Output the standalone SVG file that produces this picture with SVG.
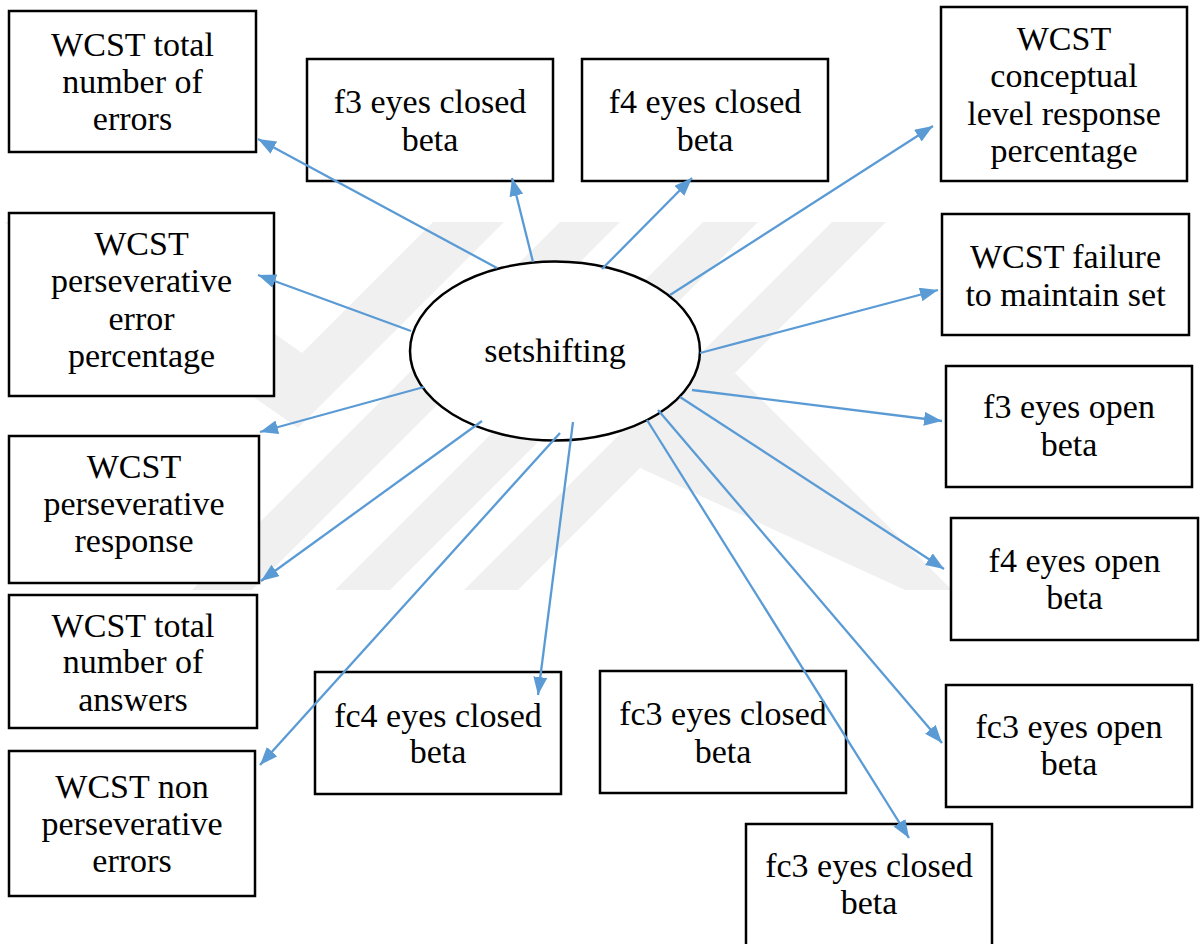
<svg xmlns="http://www.w3.org/2000/svg" width="1200" height="944" viewBox="0 0 1200 944">
  <style>
    .box { fill: #ffffff; stroke: #000000; stroke-width: 2.5; }
    .hub { fill: #ffffff; stroke: #000000; stroke-width: 2.5; }
    .lbl { font-family: "Liberation Serif", "Times New Roman", serif; font-size: 34px; fill: #000000; text-anchor: middle; }
    .edge { stroke: #5B9BD5; stroke-width: 2.3; fill: none; marker-end: url(#arrow); }
    .wm { fill: #f0f0f0; }
  </style>
  <defs>
    <marker id="arrow" markerUnits="userSpaceOnUse" markerWidth="20" markerHeight="16" refX="18" refY="7" orient="auto">
      <path d="M0,0 L18,7 L0,14 z" fill="#5B9BD5"/>
    </marker>
    <clipPath id="wmClip">
      <rect x="0" y="222" width="1200" height="368"/>
    </clipPath>
  </defs>

  <rect x="0" y="0" width="1200" height="944" fill="#ffffff"/>

  <!-- faint background emblem -->
  <g id="watermark" clip-path="url(#wmClip)">
    <polygon class="wm" points="4,222 115,222 302,353 433,222 504,222 298,428"/>
    <polygon class="wm" points="560,222 620,222 252,590 192,590"/>
    <polygon class="wm" points="703,222 758,222 390,590 335,590"/>
    <polygon class="wm" points="832,222 886,222 518,590 464,590"/>
    <polygon class="wm" points="735,373 952,590 905,590 640,468"/>
  </g>

  <!-- indicator boxes -->
  <g id="wcst-total-errors">
    <rect class="box" x="9" y="11" width="247" height="141"/>
    <text class="lbl" x="132.5" y="56">WCST total</text>
    <text class="lbl" x="132.5" y="93">number of</text>
    <text class="lbl" x="132.5" y="130">errors</text>
  </g>
  <g id="f3-eyes-closed-beta">
    <rect class="box" x="307" y="59" width="246" height="122"/>
    <text class="lbl" x="430" y="113">f3 eyes closed</text>
    <text class="lbl" x="430" y="151">beta</text>
  </g>
  <g id="f4-eyes-closed-beta">
    <rect class="box" x="582" y="59" width="246" height="122"/>
    <text class="lbl" x="705" y="113">f4 eyes closed</text>
    <text class="lbl" x="705" y="151">beta</text>
  </g>
  <g id="wcst-conceptual-level">
    <rect class="box" x="941" y="7" width="246" height="174"/>
    <text class="lbl" x="1064" y="50">WCST</text>
    <text class="lbl" x="1064" y="87">conceptual</text>
    <text class="lbl" x="1064" y="125">level response</text>
    <text class="lbl" x="1064" y="162">percentage</text>
  </g>
  <g id="wcst-perseverative-error-pct">
    <rect class="box" x="9" y="213" width="265" height="183"/>
    <text class="lbl" x="141.5" y="255">WCST</text>
    <text class="lbl" x="141.5" y="292">perseverative</text>
    <text class="lbl" x="141.5" y="330">error</text>
    <text class="lbl" x="141.5" y="367">percentage</text>
  </g>
  <g id="wcst-failure-maintain-set">
    <rect class="box" x="942" y="214" width="247" height="121"/>
    <text class="lbl" x="1065.5" y="268">WCST failure</text>
    <text class="lbl" x="1065.5" y="306">to maintain set</text>
  </g>
  <g id="f3-eyes-open-beta">
    <rect class="box" x="946" y="366" width="246" height="121"/>
    <text class="lbl" x="1069" y="418">f3 eyes open</text>
    <text class="lbl" x="1069" y="456">beta</text>
  </g>
  <g id="wcst-perseverative-response">
    <rect class="box" x="9" y="436" width="250" height="147"/>
    <text class="lbl" x="134" y="478">WCST</text>
    <text class="lbl" x="134" y="515">perseverative</text>
    <text class="lbl" x="134" y="552">response</text>
  </g>
  <g id="f4-eyes-open-beta">
    <rect class="box" x="951" y="518" width="247" height="122"/>
    <text class="lbl" x="1074.5" y="572">f4 eyes open</text>
    <text class="lbl" x="1074.5" y="609">beta</text>
  </g>
  <g id="wcst-total-answers">
    <rect class="box" x="9" y="595" width="248" height="133"/>
    <text class="lbl" x="133" y="637">WCST total</text>
    <text class="lbl" x="133" y="673">number of</text>
    <text class="lbl" x="133" y="711">answers</text>
  </g>
  <g id="fc4-eyes-closed-beta">
    <rect class="box" x="315" y="672" width="246" height="122"/>
    <text class="lbl" x="438" y="727">fc4 eyes closed</text>
    <text class="lbl" x="438" y="763">beta</text>
  </g>
  <g id="fc3-eyes-closed-beta-a">
    <rect class="box" x="600" y="671" width="246" height="122"/>
    <text class="lbl" x="723" y="725">fc3 eyes closed</text>
    <text class="lbl" x="723" y="763">beta</text>
  </g>
  <g id="fc3-eyes-open-beta">
    <rect class="box" x="946" y="685" width="246" height="122"/>
    <text class="lbl" x="1069" y="738">fc3 eyes open</text>
    <text class="lbl" x="1069" y="775">beta</text>
  </g>
  <g id="wcst-non-perseverative-errors">
    <rect class="box" x="9" y="751" width="246" height="145"/>
    <text class="lbl" x="132" y="798">WCST non</text>
    <text class="lbl" x="132" y="835">perseverative</text>
    <text class="lbl" x="132" y="872">errors</text>
  </g>
  <g id="fc3-eyes-closed-beta-b">
    <rect class="box" x="746" y="824" width="246" height="134"/>
    <text class="lbl" x="869" y="877">fc3 eyes closed</text>
    <text class="lbl" x="869" y="914">beta</text>
  </g>

  <!-- latent factor -->
  <g id="setshifting">
    <ellipse class="hub" cx="555" cy="351" rx="145" ry="89.5"/>
    <text class="lbl" x="555" y="362">setshifting</text>
  </g>

  <!-- loadings -->
  <g id="connectors">
    <line class="edge" x1="497" y1="268" x2="258" y2="139"/>
    <line class="edge" x1="533" y1="262" x2="512" y2="178"/>
    <line class="edge" x1="602" y1="269" x2="692" y2="178"/>
    <line class="edge" x1="670" y1="295" x2="933" y2="126"/>
    <line class="edge" x1="700" y1="353" x2="938" y2="290"/>
    <line class="edge" x1="692" y1="390" x2="942" y2="421"/>
    <line class="edge" x1="680" y1="397" x2="944" y2="569"/>
    <line class="edge" x1="658" y1="410" x2="942" y2="743"/>
    <line class="edge" x1="647" y1="420" x2="909" y2="838"/>
    <line class="edge" x1="573" y1="422" x2="538" y2="695"/>
    <line class="edge" x1="560" y1="433" x2="260" y2="765"/>
    <line class="edge" x1="482" y1="421" x2="261" y2="581"/>
    <line class="edge" x1="424" y1="387" x2="260" y2="432"/>
    <line class="edge" x1="411" y1="331" x2="258" y2="275"/>
  </g>
</svg>
